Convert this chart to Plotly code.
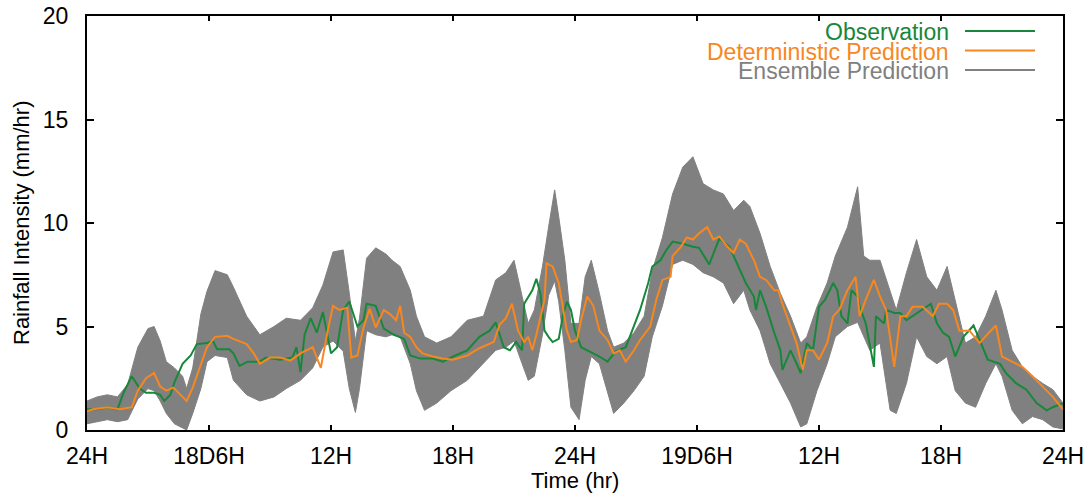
import plotly.graph_objects as go

# ---------------- data (hours since 17D 24H) ----------------
tick_hours = [0, 6, 12, 18, 24, 30, 36, 42, 48]
tick_labels = ["24H", "18D6H", "12H", "18H", "24H", "19D6H", "12H", "18H", "24H"]

obs_t = [0, 0.5, 1.0, 1.5, 1.8, 2.2, 2.6, 2.9, 3.3, 3.6, 3.8, 4.1, 4.3, 4.7, 5.1, 5.4, 5.9, 6.2,
         6.4, 7.0, 7.2, 7.5, 7.9, 8.5, 8.8, 9.5, 10.1, 10.3, 10.5, 10.7, 11.0, 11.3, 11.6, 12.0,
         12.3, 12.6, 12.9, 13.3, 13.6, 13.75, 14.2, 14.6, 15.1, 15.6, 15.9, 16.4, 17.0, 17.5,
         18.0, 18.7, 19.3, 19.8, 20.1, 20.3, 20.5, 20.8, 21.1, 21.4, 21.5, 21.9, 22.1, 22.3,
         22.5, 22.7, 22.9, 23.2, 23.4, 23.6, 23.8, 24.0, 24.3, 24.7, 25.2, 25.6, 26.0, 26.5,
         26.8, 27.2, 27.6, 27.8, 28.2, 28.5, 28.8, 29.3, 29.8, 30.1, 30.6, 31.1, 31.6, 31.9,
         32.4, 32.8, 32.9, 33.1, 33.4, 33.8, 34.1, 34.2, 34.6, 34.9, 35.1, 35.4, 35.7, 36.0,
         36.3, 36.7, 36.9, 37.1, 37.4, 37.6, 37.9, 38.0, 38.3, 38.7, 38.8, 39.2, 39.3, 39.7,
         40.0, 40.3, 40.6, 41.0, 41.5, 41.8, 42.1, 42.4, 42.7, 43.1, 43.6, 43.9, 44.3, 44.9,
         45.2, 45.7, 46.2, 46.7, 47.2, 47.5, 48.0]
obs_v = [1.0, 1.0, 1.1, 1.0, 1.8, 2.6, 2.0, 1.8, 1.8, 1.7, 1.4, 1.7, 2.3, 3.2, 3.6, 4.15, 4.2, 4.3,
         3.9, 3.9, 3.7, 3.1, 3.3, 3.3, 3.5, 3.4, 3.5, 4.0, 2.8, 4.6, 5.4, 4.7, 5.7, 3.7,
         4.0, 5.8, 6.2, 5.0, 5.3, 6.1, 6.0, 4.9, 4.6, 4.4, 3.6, 3.45, 3.45, 3.3,
         3.55, 3.85, 4.5, 4.8, 5.2, 4.6, 4.0, 3.85, 4.25, 3.85, 6.1, 6.75, 7.3, 6.6,
         4.8, 4.5, 4.25, 4.4, 5.5, 6.2, 5.8, 4.8, 4.0, 3.8, 3.55, 3.3, 3.8, 4.0,
         4.8, 5.8, 7.1, 7.9, 8.2, 8.7, 9.1, 9.0, 8.85, 8.8, 8.0, 9.25, 8.85, 8.2,
         7.1, 6.45, 5.8, 6.75, 5.95, 4.7, 3.85, 2.9, 3.85, 3.2, 2.75, 4.2, 3.85, 5.95,
         6.3, 7.1, 6.75, 5.5, 5.15, 6.75, 6.45, 5.95, 5.15, 3.05, 5.5, 5.15, 5.8, 5.65,
         5.65, 5.3, 5.5, 5.8, 6.1, 5.15, 4.7, 4.5, 3.55, 4.5, 5.05, 4.35, 3.4, 3.2,
         2.75, 2.25, 1.95, 1.3, 0.95, 1.1, 1.3]

det_t = [0, 0.3, 1.0, 1.6, 2.2, 2.5, 2.9, 3.3, 3.6, 3.9, 4.25, 4.6, 4.9, 5.2, 5.6, 5.9, 6.3, 6.9,
         7.2, 7.85, 8.2, 8.5, 9.0, 9.5, 10.0, 10.5, 11.1, 11.5, 11.8, 12.1, 12.4, 12.8, 13.0,
         13.3, 13.6, 13.9, 14.2, 14.6, 14.9, 15.2, 15.4, 15.6, 15.9, 16.2, 16.5, 17.0, 17.5,
         18.0, 18.7, 19.3, 20.0, 20.3, 20.6, 20.9, 21.2, 21.5, 21.7, 21.9, 22.1, 22.5, 22.6,
         22.9, 23.2, 23.4, 23.6, 23.8, 24.1, 24.3, 24.6, 24.9, 25.2, 25.6, 25.9, 26.2, 26.5,
         26.9, 27.2, 27.7, 28.0, 28.3, 28.7, 28.8, 29.2, 29.5, 29.8, 30.1, 30.5, 30.8, 31.1,
         31.5, 31.8, 32.1, 32.4, 32.8, 33.1, 33.4, 33.8, 34.0, 34.2, 34.6, 34.9, 35.2, 35.4,
         35.7, 36.0, 36.4, 36.7, 37.0, 37.4, 37.8, 38.0, 38.3, 38.7, 39.0, 39.3, 39.7, 40.0,
         40.3, 40.6, 41.1, 41.6, 41.9, 42.3, 42.6, 42.9, 43.4, 43.9, 44.4, 44.7, 45.0, 45.5,
         46.0, 46.5, 47.0, 47.5, 48.0]
det_v = [0.9, 1.0, 1.1, 1.0, 1.1, 1.9, 2.5, 2.75, 2.1, 1.9, 2.05, 1.7, 1.4, 2.05, 3.2, 4.0, 4.5, 4.55,
         4.4, 4.15, 3.7, 3.2, 3.5, 3.5, 3.35, 3.7, 4.0, 3.0, 4.6, 6.0, 5.8, 5.9, 3.5,
         3.6, 4.95, 5.85, 4.95, 5.8, 5.6, 5.3, 6.0, 4.7, 4.5, 4.0, 3.7, 3.55, 3.45,
         3.4, 3.6, 3.95, 4.25, 5.1, 5.4, 6.1, 4.8, 4.25, 4.5, 3.85, 4.6, 6.3, 8.05,
         7.9, 7.1, 6.0, 4.8, 4.25, 4.35, 5.3, 6.45, 6.0, 4.8, 4.35, 3.7, 3.85, 3.3,
         3.85, 4.35, 5.0, 6.3, 7.25, 7.4, 8.4, 8.85, 9.3, 9.2, 9.5, 9.8, 9.2, 9.35,
         8.85, 8.55, 9.2, 9.0, 8.2, 7.4, 7.25, 6.75, 6.75, 6.1, 5.0, 4.2, 2.9, 3.85,
         3.85, 3.4, 4.2, 5.5, 5.8, 6.75, 7.4, 5.5, 6.3, 7.25, 6.45, 5.8, 3.05, 5.5,
         5.5, 5.95, 5.95, 5.5, 6.1, 6.1, 5.8, 4.8, 4.8, 4.2, 4.75, 5.05, 3.55, 3.3,
         3.05, 2.6, 2.1, 1.6, 1.0]

ens_t = [0, 0.5, 1.0, 1.5, 2.0, 2.5, 3.0, 3.3, 3.6, 3.9, 4.3, 4.7, 4.9, 5.2, 5.6, 5.9, 6.3, 6.9,
         7.2, 7.85, 8.5, 9.2, 9.8, 10.5, 11.1, 11.6, 12.1, 12.6, 12.9, 13.2, 13.4, 13.75, 14.2,
         14.7, 15.0, 15.4, 15.9, 16.2, 16.6, 17.2, 17.9, 18.7, 19.5, 20.1, 20.6, 21.0, 21.4,
         21.7, 22.0, 22.4, 22.7, 23.0, 23.2, 23.5, 23.8, 24.2, 24.5, 24.8, 25.2, 25.6, 25.9,
         26.4, 26.9, 27.4, 27.8, 28.3, 28.8, 29.3, 29.8, 30.3, 30.8, 31.3, 31.8, 32.3, 32.6,
         33.1, 33.6, 34.1, 34.6, 35.1, 35.4, 35.9, 36.4, 36.8, 37.4, 37.9, 38.2, 38.5, 39.0,
         39.5, 39.8, 40.3, 40.8, 41.3, 41.8, 42.3, 42.7, 43.2, 43.7, 44.2, 44.7, 45.0, 45.5,
         46.0, 46.5, 47.0, 47.5, 48.0]
ens_lo = [0.3, 0.4, 0.5, 0.4, 0.5, 1.5, 2.0, 1.9, 1.4, 0.8, 0.3, 0.1, 0.0, 0.8, 2.0, 3.3, 3.6, 3.5,
          2.4, 1.7, 1.4, 1.6, 2.0, 2.4, 3.0, 4.0, 4.3, 3.8, 2.0, 0.85, 2.0, 4.8, 4.6,
          4.5, 4.6, 4.5, 3.2, 1.9, 0.95, 1.3, 1.9, 2.4, 3.2, 3.85, 4.0, 4.3, 3.2,
          2.4, 2.6, 4.6, 6.5, 7.2, 6.2, 3.85, 1.1, 0.5, 2.4, 3.55, 3.2, 1.8, 0.8,
          1.3, 1.9, 2.6, 4.5, 6.0, 8.0, 8.2, 8.0, 7.6, 7.4, 7.1, 6.1, 6.75, 5.8,
          4.8, 3.2, 2.25, 1.3, 0.15, 0.3, 1.9, 3.2, 4.5, 5.0, 5.2, 4.5, 3.85, 4.2,
          0.95, 0.8, 2.25, 4.5, 3.55, 3.2, 3.55, 1.9, 1.3, 1.1, 2.25, 3.2, 2.6, 0.95,
          0.3, 0.65, 0.5, 0.15, 0.05]
ens_hi = [1.4, 1.6, 1.7, 1.6, 2.2, 4.0, 4.9, 5.0, 4.3, 3.3, 3.0, 2.6, 2.0, 3.0, 5.6, 6.7, 7.7, 7.5,
          6.9, 5.5, 4.6, 5.0, 5.4, 5.3, 5.9, 7.0, 8.6, 8.7, 6.6, 4.3, 5.4, 8.3, 8.8,
          8.5, 8.2, 7.9, 6.75, 5.5, 4.5, 4.2, 4.5, 5.3, 5.5, 7.25, 7.6, 8.2, 6.45,
          5.15, 5.8, 7.9, 9.8, 11.6, 10.3, 8.2, 5.15, 5.15, 7.4, 8.2, 6.6, 4.8, 4.0,
          4.2, 4.7, 5.5, 7.7, 9.3, 11.4, 12.7, 13.2, 11.9, 11.6, 11.4, 10.6, 11.1, 10.8,
          9.5, 7.9, 6.6, 5.5, 4.2, 4.5, 5.95, 7.1, 8.4, 9.8, 11.75, 8.4, 8.2, 8.2,
          6.75, 5.8, 7.6, 9.2, 7.4, 6.75, 7.9, 6.3, 4.2, 4.5, 5.5, 6.75, 5.8, 3.85,
          3.05, 2.6, 2.25, 1.95, 1.3]

series_names = ["Observation", "Deterministic Prediction", "Ensemble Prediction"]
series_colors = ["#17873a", "#f7871e", "#808080"]

# ---------------- figure ----------------
FONT = "Liberation Sans, Arial, Helvetica, sans-serif"
FS = 23
fig = go.Figure()

fig.add_trace(go.Scatter(x=ens_t, y=ens_lo, mode="lines",
                         line=dict(color=series_colors[2], width=1),
                         showlegend=False, hoverinfo="skip"))
fig.add_trace(go.Scatter(x=ens_t, y=ens_hi, mode="lines", fill="tonexty",
                         fillcolor=series_colors[2],
                         line=dict(color=series_colors[2], width=1),
                         name=series_names[2], showlegend=False))
fig.add_trace(go.Scatter(x=obs_t, y=obs_v, mode="lines",
                         line=dict(color=series_colors[0], width=2),
                         name=series_names[0], showlegend=False))
fig.add_trace(go.Scatter(x=det_t, y=det_v, mode="lines",
                         line=dict(color=series_colors[1], width=2),
                         name=series_names[1], showlegend=False))

# Legend (right-aligned text with key line to the right, as in the original)
L, R, T, B = 87, 1063, 16, 430
def px_x(p):
    return (p - L) / (R - L)
def px_y(p):
    return (B - p) / (B - T)

legend_rows = [32, 51.5, 71]
key_rows = [31, 50.5, 70]
for name, col, ty, ky in zip(series_names, series_colors, legend_rows, key_rows):
    fig.add_annotation(xref="paper", yref="paper", x=px_x(951), y=px_y(ty),
                       text=name, showarrow=False, xanchor="right", yanchor="middle",
                       font=dict(family=FONT, size=FS, color=col))
    fig.add_shape(type="line", xref="paper", yref="paper",
                  x0=px_x(965), x1=px_x(1035), y0=px_y(ky), y1=px_y(ky),
                  line=dict(color=col, width=2))

# Axis titles
fig.add_annotation(xref="paper", yref="paper", x=px_x(21), y=0.5,
                   text="Rainfall Intensity (mm/hr)", textangle=-90, showarrow=False,
                   xanchor="center", yanchor="middle",
                   font=dict(family=FONT, size=FS - 1, color="black"))
fig.add_annotation(xref="paper", yref="paper", x=0.5, y=px_y(480),
                   text="Time (hr)", showarrow=False, xanchor="center", yanchor="middle",
                   font=dict(family=FONT, size=FS - 1, color="black"))

fig.update_layout(
    template="none",
    width=1092, height=498,
    margin=dict(l=L, r=1092 - R, t=T, b=498 - B, autoexpand=False),
    paper_bgcolor="white", plot_bgcolor="white",
    font=dict(family=FONT, size=FS, color="black"),
    showlegend=False,
)
fig.update_xaxes(range=[0, 48], tickvals=tick_hours, ticktext=tick_labels,
                 ticks="inside", ticklen=5, tickwidth=2, tickcolor="black",
                 showline=True, linewidth=2, linecolor="black", mirror="ticks",
                 showgrid=False, zeroline=False, ticklabelstandoff=4, automargin=False)
fig.update_yaxes(range=[0, 20], tickvals=[0, 5, 10, 15, 20],
                 ticks="inside", ticklen=7, tickwidth=2, tickcolor="black",
                 showline=True, linewidth=2, linecolor="black", mirror="ticks",
                 showgrid=False, zeroline=False, ticklabelstandoff=12, automargin=False)

fig.write_html("out.html", config={"displayModeBar": False},
               post_script="document.body.style.margin='0';document.body.style.padding='0';")
